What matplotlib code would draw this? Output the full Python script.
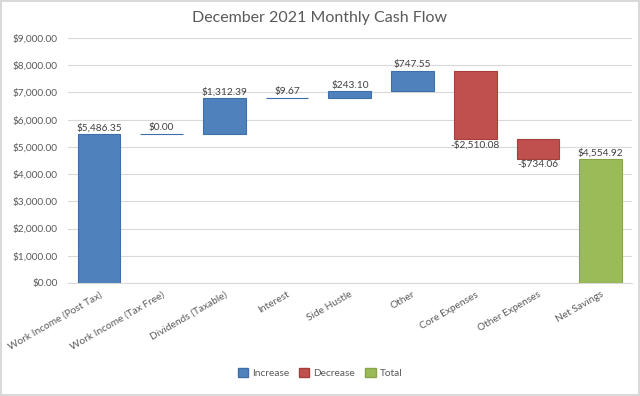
import matplotlib.pyplot as plt
from matplotlib.patches import Patch

categories = ["Work Income (Post Tax)", "Work Income (Tax Free)", "Dividends (Taxable)",
              "Interest", "Side Hustle", "Other", "Core Expenses", "Other Expenses",
              "Net Savings"]
values = [5486.35, 0.00, 1312.39, 9.67, 243.10, 747.55, -2510.08, -734.06, 4554.92]
kinds = ["inc", "inc", "inc", "inc", "inc", "inc", "dec", "dec", "total"]

colors = {"inc": "#4F81BD", "dec": "#C0504D", "total": "#9BBB59"}
edges = {"inc": "#3F6FA8", "dec": "#A33F3C", "total": "#86A649"}

plt.rcParams['font.family'] = ['Lato', 'DejaVu Sans']

fig = plt.figure(figsize=(6.4, 3.96), dpi=100)
fig.patch.set_edgecolor("#D9D9D9")
fig.patch.set_linewidth(1.5)
ax = fig.add_axes([0.1056, 0.2854, 0.882, 0.619])

# running total -> bottoms
running = 0
for i, (v, k) in enumerate(zip(values, kinds)):
    if k == "total":
        bottom, height = 0, v
    else:
        bottom = running if v >= 0 else running + v
        height = abs(v)
        running += v
    ax.bar(i, height, bottom=bottom, width=0.68, color=colors[k],
           edgecolor=edges[k], linewidth=0.8, zorder=3)
    label = f"${v:,.2f}" if v >= 0 else f"-${-v:,.2f}"
    if v >= 0:
        ax.text(i, bottom + height + 50, label, ha="center", va="bottom",
                fontsize=7.3, color="#404040")
    else:
        ax.text(i, bottom - 50, label, ha="center", va="top",
                fontsize=7.3, color="#404040")

ax.set_xlim(-0.5, len(categories) - 0.5)
ax.set_ylim(0, 9000)
ax.set_yticks(range(0, 9001, 1000))
ax.set_yticklabels([f"${t:,.2f}" for t in range(0, 9001, 1000)])
ax.set_xticks(range(len(categories)))
ax.set_xticklabels(categories, rotation=30, ha="right", rotation_mode="anchor")
ax.tick_params(axis="both", length=0, labelsize=7.3, colors="#595959")
ax.tick_params(axis="x", pad=5)
ax.tick_params(axis="y", pad=7)
ax.grid(axis="y", color="#D9D9D9", linewidth=0.8, zorder=0)
for s in ["top", "right", "left"]:
    ax.spines[s].set_visible(False)
ax.spines["bottom"].set_color("#D9D9D9")

fig.text(0.5, 0.955, "December 2021 Monthly Cash Flow", ha="center", va="center",
         fontsize=11.5, color="#595959")

handles = [Patch(facecolor=colors[k], edgecolor=edges[k]) for k in ["inc", "dec", "total"]]
fig.legend(handles, ["Increase", "Decrease", "Total"], loc="center",
           bbox_to_anchor=(0.5, 0.058), ncol=3, frameon=False, fontsize=7.3,
           handlelength=1.0, handleheight=1.0, handletextpad=0.4, columnspacing=1.0,
           labelcolor="#595959")

fig.savefig("out.png", dpi=100)
